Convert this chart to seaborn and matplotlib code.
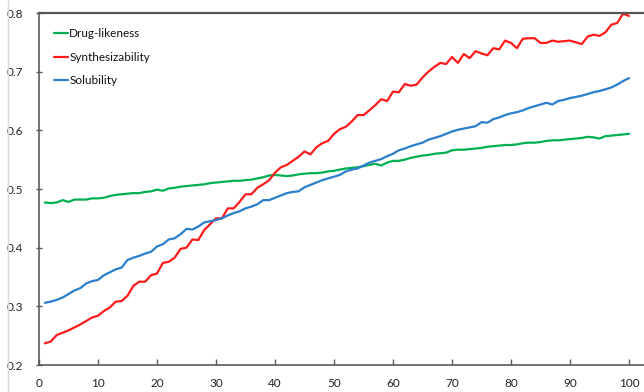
import matplotlib
matplotlib.use("Agg")
import matplotlib.pyplot as plt
from matplotlib.lines import Line2D
import numpy as np
import pandas as pd
import seaborn as sns

# Epoch index (1..100)
steps = list(range(1, 101))

drug_likeness = [
    0.477, 0.476, 0.477, 0.481, 0.478, 0.482, 0.482, 0.482, 0.484, 0.484,
    0.485, 0.488, 0.490, 0.491, 0.492, 0.493, 0.493, 0.495, 0.496, 0.499,
    0.497, 0.501, 0.502, 0.504, 0.505, 0.506, 0.507, 0.508, 0.510, 0.511,
    0.512, 0.513, 0.514, 0.514, 0.515, 0.516, 0.518, 0.520, 0.523, 0.524,
    0.523, 0.522, 0.523, 0.525, 0.526, 0.527, 0.527, 0.528, 0.530, 0.531,
    0.533, 0.535, 0.536, 0.537, 0.539, 0.541, 0.543, 0.540, 0.545, 0.548,
    0.548, 0.550, 0.553, 0.555, 0.557, 0.558, 0.560, 0.561, 0.562, 0.566,
    0.567, 0.567, 0.568, 0.569, 0.570, 0.572, 0.573, 0.574, 0.575, 0.575,
    0.576, 0.578, 0.579, 0.579, 0.580, 0.582, 0.583, 0.583, 0.584, 0.585,
    0.586, 0.587, 0.589, 0.588, 0.586, 0.590, 0.591, 0.592, 0.593, 0.594,
]

synthesizability = [
    0.237, 0.240, 0.251, 0.255, 0.259, 0.264, 0.269, 0.275, 0.281, 0.284,
    0.292, 0.298, 0.308, 0.309, 0.318, 0.335, 0.342, 0.342, 0.353, 0.356,
    0.374, 0.376, 0.383, 0.398, 0.400, 0.414, 0.413, 0.430, 0.440, 0.450,
    0.450, 0.467, 0.467, 0.478, 0.491, 0.491, 0.502, 0.508, 0.515, 0.528,
    0.537, 0.541, 0.548, 0.555, 0.564, 0.559, 0.571, 0.578, 0.582, 0.594,
    0.602, 0.606, 0.615, 0.626, 0.626, 0.634, 0.643, 0.653, 0.650, 0.666,
    0.665, 0.679, 0.676, 0.678, 0.690, 0.700, 0.708, 0.715, 0.713, 0.725,
    0.715, 0.730, 0.723, 0.735, 0.731, 0.728, 0.740, 0.738, 0.753, 0.749,
    0.740, 0.756, 0.757, 0.757, 0.749, 0.749, 0.753, 0.751, 0.752, 0.753,
    0.750, 0.747, 0.760, 0.763, 0.761, 0.767, 0.780, 0.783, 0.799, 0.795,
]

solubility = [
    0.306, 0.308, 0.311, 0.315, 0.321, 0.327, 0.331, 0.339, 0.343, 0.345,
    0.353, 0.358, 0.363, 0.366, 0.379, 0.383, 0.386, 0.390, 0.393, 0.402,
    0.406, 0.414, 0.416, 0.423, 0.432, 0.431, 0.436, 0.443, 0.445, 0.447,
    0.450, 0.455, 0.459, 0.462, 0.467, 0.470, 0.474, 0.481, 0.481, 0.485,
    0.489, 0.493, 0.495, 0.496, 0.503, 0.507, 0.511, 0.515, 0.518, 0.521,
    0.524, 0.530, 0.533, 0.535, 0.540, 0.545, 0.548, 0.551, 0.556, 0.560,
    0.566, 0.569, 0.573, 0.576, 0.579, 0.584, 0.587, 0.590, 0.594, 0.598,
    0.601, 0.603, 0.605, 0.607, 0.614, 0.613, 0.619, 0.622, 0.626, 0.629,
    0.631, 0.634, 0.638, 0.641, 0.644, 0.647, 0.644, 0.650, 0.652, 0.655,
    0.657, 0.659, 0.662, 0.665, 0.667, 0.670, 0.673, 0.678, 0.684, 0.689,
]

series_names = ["Drug-likeness", "Synthesizability", "Solubility"]
series_colors = ["#00B050", "#FF1A1A", "#2A7FCC"]
x_ticks = [0, 10, 20, 30, 40, 50, 60, 70, 80, 90, 100]
y_ticks = [0.2, 0.3, 0.4, 0.5, 0.6, 0.7, 0.8]

df = pd.DataFrame({
    "step": steps * 3,
    "score": drug_likeness + synthesizability + solubility,
    "property": (["Drug-likeness"] * len(steps)
                 + ["Synthesizability"] * len(steps)
                 + ["Solubility"] * len(steps)),
})

sns.set_theme(style="white")
plt.rcParams["font.family"] = ["Lato", "DejaVu Sans"]

fig = plt.figure(figsize=(6.44, 3.92), dpi=100)
ax = fig.add_axes([39 / 644, 27 / 392, 1 - 39 / 644, (365 - 13) / 392])

sns.lineplot(
    data=df, x="step", y="score", hue="property",
    hue_order=series_names, palette=dict(zip(series_names, series_colors)),
    linewidth=1.6, ax=ax, legend=True,
)

ax.set_xlim(0, (644 - 39) / 5.9)
ax.set_ylim(0.2, 0.8)
ax.set_xticks(x_ticks)
ax.set_yticks(y_ticks)
ax.set_xticklabels([str(v) for v in x_ticks])
ax.set_yticklabels([f"{v:.1f}" for v in y_ticks])
ax.set_xlabel("")
ax.set_ylabel("")

spine_color = "#5a5a5a"
for side in ["left", "bottom"]:
    ax.spines[side].set_color(spine_color)
    ax.spines[side].set_linewidth(1.2)
ax.spines["top"].set_color("#555555")
ax.spines["top"].set_linewidth(1.6)
ax.spines["right"].set_visible(False)

ax.tick_params(axis="x", direction="in", length=4, width=1, color=spine_color,
               pad=9.5, labelsize=8.5, labelcolor="#222222", bottom=True)
ax.tick_params(axis="y", direction="inout", length=5, width=1, color=spine_color,
               pad=9, labelsize=8.5, labelcolor="#222222", left=True)

leg = ax.legend(
    loc="upper left", bbox_to_anchor=(0.017, 0.97), frameon=False,
    fontsize=8.5, handlelength=1.2, handletextpad=0.1, labelspacing=1.05,
    borderaxespad=0,
)
for line in leg.get_lines():
    line.set_linewidth(1.6)
for txt in leg.get_texts():
    txt.set_color("#111111")

# light border of the chart area on the far left
fig.add_artist(Line2D([8 / 644, 8 / 644], [0, 1], transform=fig.transFigure,
                      color="#d9d9d9", linewidth=1))

fig.savefig("out.png", dpi=100)
